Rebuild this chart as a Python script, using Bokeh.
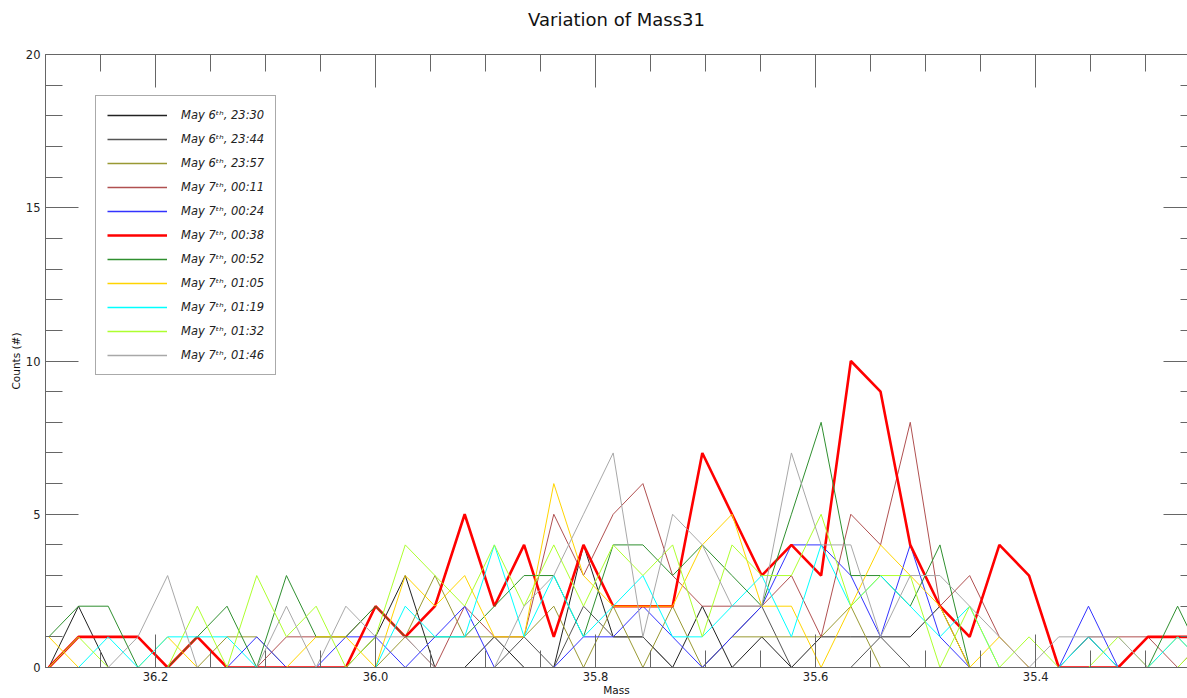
from bokeh.plotting import figure
from bokeh.models import (Range1d, FixedTicker, PrintfTickFormatter, LinearAxis,
                          Legend, LegendItem, ColumnDataSource)
from bokeh.embed import file_html
from bokeh.resources import INLINE

# ---------------- data ----------------
MASS = [36.297, 36.270, 36.243, 36.216, 36.189, 36.162, 36.135, 36.108, 36.081, 36.054,
        36.027, 36.000, 35.973, 35.946, 35.919, 35.892, 35.865, 35.838, 35.811, 35.784,
        35.757, 35.730, 35.703, 35.676, 35.649, 35.622, 35.595, 35.568, 35.541, 35.514,
        35.487, 35.460, 35.433, 35.406, 35.379, 35.352, 35.325, 35.298, 35.271, 35.244]

TITLE = "Variation of Mass31"
LABELS = ["May 6\u1d57\u02b0, 23:30", "May 6\u1d57\u02b0, 23:44", "May 6\u1d57\u02b0, 23:57",
          "May 7\u1d57\u02b0, 00:11", "May 7\u1d57\u02b0, 00:24", "May 7\u1d57\u02b0, 00:38",
          "May 7\u1d57\u02b0, 00:52", "May 7\u1d57\u02b0, 01:05", "May 7\u1d57\u02b0, 01:19",
          "May 7\u1d57\u02b0, 01:32", "May 7\u1d57\u02b0, 01:46"]

S_2330 = [0,2,0,0,0,0,0,0,0,0,0,1,3,0,0,1,0,0,4,1,1,0,2,0,1,0,1,1,1,1,2,0,0,0,0,1,0,0,0,0]
S_2344 = [0,0,0,0,0,0,0,0,0,0,0,0,0,0,0,0,1,0,2,1,1,0,0,1,2,0,0,0,1,0,0,0,0,0,0,0,0,0,0,0]
S_2357 = [0,1,1,1,0,0,1,1,0,0,0,0,1,3,1,1,1,2,0,2,0,2,0,1,1,1,1,2,0,0,0,0,0,0,0,0,0,0,0,0]
S_0011 = [0,0,0,0,0,0,0,0,1,1,1,2,1,0,2,1,1,5,3,5,6,3,2,2,2,3,1,5,4,8,2,3,1,0,0,1,1,1,0,1]
S_0024 = [0,0,0,0,0,0,0,1,0,0,1,1,0,1,2,0,0,0,1,1,2,1,0,1,2,4,4,3,1,4,1,0,0,0,0,2,0,0,0,0]
S_0038 = [0,1,1,1,0,1,0,0,0,0,0,2,1,2,5,2,4,1,4,2,2,2,7,5,3,4,3,10,9,4,2,1,4,3,0,0,0,1,1,1]
S_0052 = [1,2,2,0,0,1,2,0,3,1,1,2,1,1,1,2,3,3,1,4,4,3,4,3,2,5,8,3,3,2,4,0,0,0,0,0,0,0,2,0]
S_0105 = [1,0,0,0,1,0,0,0,0,1,1,0,3,2,3,1,1,6,3,2,2,2,4,5,2,2,0,2,4,3,2,0,1,0,0,0,0,0,1,0]
S_0119 = [0,0,1,0,1,1,1,0,0,0,0,0,2,1,1,4,1,3,1,2,3,1,1,2,3,1,4,2,3,2,1,2,0,0,0,1,0,0,1,0]
S_0132 = [0,1,0,0,0,2,0,3,1,2,0,1,4,3,2,4,2,4,2,4,3,4,1,4,3,3,5,2,3,3,0,2,0,1,0,0,1,0,0,1]
S_0146 = [0,0,0,1,3,0,0,0,2,0,2,1,1,0,0,0,2,3,5,7,1,5,4,2,2,7,4,4,1,3,3,2,1,0,1,1,1,0,0,0]

SERIES = [S_2330, S_2344, S_2357, S_0011, S_0024, S_0038, S_0052, S_0105, S_0119, S_0132, S_0146]
COLORS = ["#222222", "#555555", "#999933", "#b05050", "#3333ff", "#ff0000",
          "#2f8f2f", "#ffd400", "#00ffff", "#adff2f", "#a8a8a8"]
WIDTHS = [1, 1, 1, 1, 1, 2.6, 1, 1, 1, 1, 1]

XTICKS = [36.2, 36.0, 35.8, 35.6, 35.4]
XMINOR = [36.3, 36.25, 36.2, 36.15, 36.1, 36.05, 36.0, 35.95, 35.9, 35.85, 35.8,
          35.75, 35.7, 35.65, 35.6, 35.55, 35.5, 35.45, 35.4, 35.35, 35.3, 35.25]
YTICKS = [0, 5, 10, 15, 20]
YMINOR = list(range(0, 21))

FONT = "DejaVu Sans"
AX = "#666666"

p = figure(width=1187, height=698, output_backend="svg", toolbar_location=None,
           x_range=Range1d(36.3, 35.262), y_range=Range1d(0, 20),
           x_axis_location=None, y_axis_location=None,
           min_border_left=45, min_border_right=0, min_border_top=54, min_border_bottom=28,
           background_fill_color="white", border_fill_color="white")
p.outline_line_color = None
p.grid.visible = False


def style_axis(ax):
    ax.axis_line_color = AX
    ax.major_tick_line_color = AX
    ax.minor_tick_line_color = AX
    ax.major_tick_out = 0
    ax.minor_tick_out = 0
    ax.major_tick_in = 33
    ax.minor_tick_in = 17
    ax.major_label_text_font = FONT
    ax.major_label_text_color = "#222222"
    ax.major_label_text_font_size = "11.5px"
    ax.axis_label_text_font = FONT
    ax.axis_label_text_font_style = "normal"
    ax.axis_label_text_color = "#111111"


def tick_only_axis(minor_ticks, length, line=True):
    ax = LinearAxis(ticker=FixedTicker(ticks=[], minor_ticks=minor_ticks))
    ax.axis_line_color = AX if line else None
    ax.major_tick_line_color = None
    ax.minor_tick_line_color = AX
    ax.major_tick_out = 0
    ax.minor_tick_out = 0
    ax.minor_tick_in = length
    ax.major_label_standoff = 0
    return ax


xt = FixedTicker(ticks=XTICKS, minor_ticks=XMINOR)
yt = FixedTicker(ticks=YTICKS, minor_ticks=YMINOR)

bottom = LinearAxis(ticker=xt, formatter=PrintfTickFormatter(format="%.1f"), axis_label="Mass")
style_axis(bottom)
bottom.major_label_standoff = 4
bottom.axis_label_standoff = 0
bottom.axis_label_text_font_size = "10.5px"
p.add_layout(bottom, "below")

left = LinearAxis(ticker=yt, axis_label="Counts (#)")
style_axis(left)
left.major_label_standoff = 5
left.axis_label_standoff = 1
left.axis_label_text_font_size = "10.5px"
p.add_layout(left, "left")

# top side: short and long inward ticks, no tick labels; the chart title rides on it
top_minor = tick_only_axis(XMINOR, 17, line=True)
p.add_layout(top_minor, "above")
top_major = tick_only_axis(XTICKS, 33, line=False)
top_major.axis_label = TITLE
top_major.axis_label_text_font = FONT
top_major.axis_label_text_font_size = "18px"
top_major.axis_label_text_font_style = "normal"
top_major.axis_label_text_color = "#111111"
top_major.axis_label_standoff = 25
p.add_layout(top_major, "above")

# right side: the frame continues just past the window, so only the tick tips show
p.add_layout(tick_only_axis(YMINOR, 7, line=False), "right")
p.add_layout(tick_only_axis(YTICKS, 24, line=False), "right")

for ys, col, w in zip(SERIES, COLORS, WIDTHS):
    p.line(MASS, ys, line_color=col, line_width=w)

# legend samples (one hidden point each, shown only in the legend box)
items = []
for lab, col, w in zip(LABELS, COLORS, WIDTHS):
    src = ColumnDataSource(data=dict(x=[float("nan")], y=[float("nan")]))
    r = p.line("x", "y", source=src, line_color=col, line_width=max(w, 1.6))
    items.append(LegendItem(label=lab, renderers=[r]))

legend = Legend(items=items, location=(50, 292))
legend.border_line_color = "#555555"
legend.border_line_width = 1
legend.background_fill_color = "white"
legend.background_fill_alpha = 1
legend.label_text_font = FONT
legend.label_text_font_style = "italic"
legend.label_text_font_size = "11.5px"
legend.label_text_color = "#222222"
legend.glyph_width = 60
legend.glyph_height = 16
legend.label_height = 16
legend.label_standoff = 14
legend.spacing = 8
legend.padding = 11
legend.margin = 0
p.add_layout(legend, "center")

open("out.html", "w").write(file_html(p, INLINE))
